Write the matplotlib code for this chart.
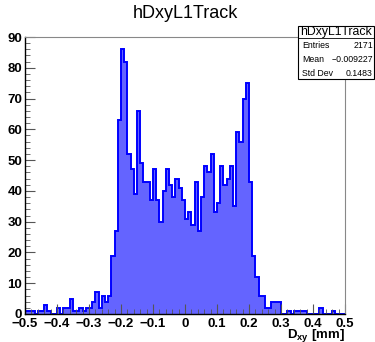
import numpy as np
import matplotlib
matplotlib.use("Agg")
import matplotlib.pyplot as plt
from matplotlib.patches import Rectangle
from matplotlib.lines import Line2D

plt.rcParams['font.family'] = ['Liberation Sans', 'DejaVu Sans']
plt.rcParams['mathtext.fontset'] = 'custom'
plt.rcParams['mathtext.rm'] = 'Liberation Sans:bold'
plt.rcParams['mathtext.it'] = 'Liberation Sans:bold'
plt.rcParams['mathtext.bf'] = 'Liberation Sans:bold'

# Histogram data: 100 bins from -0.5 to 0.5
x_min = -0.5
x_max = 0.5
n_bins = 100
counts = [
    1, 1, 1, 0, 1, 1, 3, 1, 0, 0,
    2, 0, 2, 2, 5, 1, 1, 2, 1, 2,
    2, 4, 7, 2, 6, 4, 6, 19, 27, 63,
    86, 82, 52, 47, 39, 66, 49, 43, 43, 37,
    47, 37, 30, 40, 47, 42, 38, 44, 41, 37,
    31, 33, 29, 43, 27, 38, 48, 46, 52, 33,
    36, 48, 42, 44, 48, 35, 59, 56, 70, 75,
    43, 19, 12, 6, 6, 2, 2, 4, 4, 4,
    0, 0, 1, 0, 1, 1, 1, 1, 0, 0,
    0, 0, 2, 0, 0, 0, 1, 0, 0, 0,
]
title = "hDxyL1Track"
stat_names = ["Entries", "Mean", "Std Dev"]
stat_values = ["2171", "\u22120.009227", "0.1483"]
x_ticks = [-0.5, -0.4, -0.3, -0.2, -0.1, 0, 0.1, 0.2, 0.3, 0.4, 0.5]
x_tick_labels = ["\u22120.5", "\u22120.4", "\u22120.3", "\u22120.2", "\u22120.1", "0",
                 "0.1", "0.2", "0.3", "0.4", "0.5"]
y_ticks = [0, 10, 20, 30, 40, 50, 60, 70, 80, 90]
x_label = r"$\mathrm{D_{xy}}$ [mm]"

W, H = 375, 342
fig = plt.figure(figsize=(W / 100, H / 100), dpi=100)
ax = fig.add_axes([25 / W, 1 - 314 / H, 320 / W, 277 / H])

edges = np.linspace(x_min, x_max, n_bins + 1)
vals = np.array(counts, dtype=float)
ax.stairs(vals, edges, fill=True, facecolor='#6464ff', edgecolor='none')
ax.stairs(vals, edges, color='#0000ff', lw=1.4)

ax.set_xlim(x_min, x_max)
ax.set_ylim(0, 90)

ax.set_xticks(x_ticks)
ax.set_xticklabels(x_tick_labels)
ax.set_xticks(np.arange(-0.5, 0.5001, 0.02), minor=True)
ax.set_yticks(y_ticks)
ax.set_yticks(np.arange(0, 90.01, 2), minor=True)

ax.tick_params(which='both', direction='in', top=False, right=False, color='#555555')
ax.tick_params(which='major', length=7, width=0.8, labelsize=9.5)
ax.tick_params(axis='x', which='major', pad=3)
ax.tick_params(axis='y', which='major', pad=2)
ax.tick_params(which='minor', length=3.5, width=0.6)
for lab in ax.get_xticklabels() + ax.get_yticklabels():
    lab.set_fontweight('bold')

for s in ['left', 'bottom']:
    ax.spines[s].set_color('black')
    ax.spines[s].set_linewidth(1.0)
for s in ['top', 'right']:
    ax.spines[s].set_color('#888888')
    ax.spines[s].set_linewidth(0.8)

fig.text(345 / W, 1 - 335.5 / H, x_label, ha='right', va='center', fontsize=9.5,
         fontweight='bold')

fig.text(185 / W, 1 - 14 / H, title, ha='center', va='center', fontsize=13)

# Stats box
bx0, bx1, by0, by1 = 298, 374, 26, 79
fig.patches.append(Rectangle((bx0 / W, 1 - by1 / H), (bx1 - bx0) / W, (by1 - by0) / H,
                             transform=fig.transFigure, facecolor='white',
                             edgecolor='black', lw=0.8, zorder=5))
fig.lines.append(Line2D([bx0 / W, bx1 / W], [1 - 38 / H, 1 - 38 / H],
                        transform=fig.transFigure, color='black', lw=0.6, zorder=6))
fig.text((bx0 + bx1) / 2 / W, 1 - 32 / H, title, ha='center', va='center',
         fontsize=8.8, zorder=7)
row_y = [45, 59, 73]
for name, val, yy in zip(stat_names, stat_values, row_y):
    fig.text(302 / W, 1 - yy / H, name, ha='left', va='center', fontsize=6.3, zorder=7)
    fig.text(373 / W, 1 - yy / H, val, ha='right', va='center', fontsize=6.3, zorder=7)

fig.savefig("out.png", dpi=100)
